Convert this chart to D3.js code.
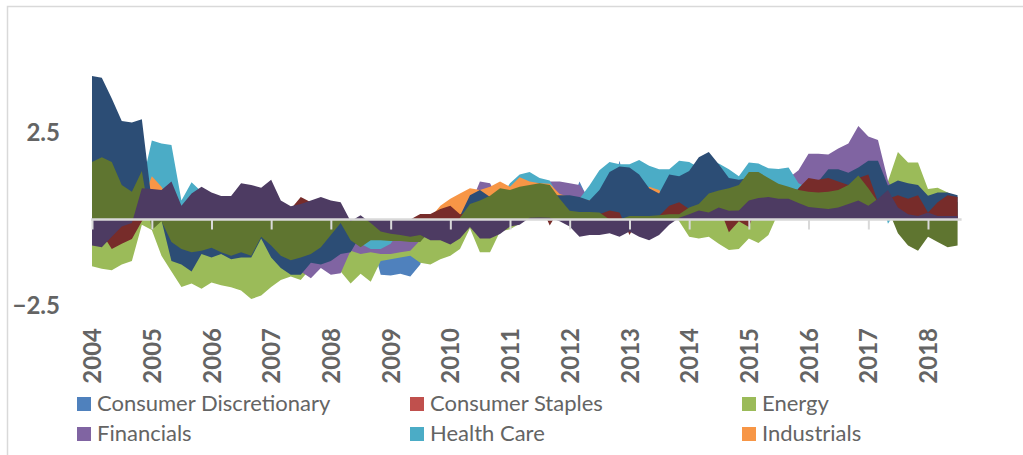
<!DOCTYPE html>
<html>

<head>
    <meta charset="utf-8">
    <style>
        body {
            margin: 0;
            background: #fff;
        }

        svg {
            display: block;
            font-family: Lato, 'Open Sans', sans-serif;
        }

        .tick-label {
            font-size: 24px;
            font-weight: bold;
            fill: #646464;
        }

        .legend-text {
            font-size: 22px;
            fill: #646464;
        }
    </style>
</head>

<body>
    <svg width="1023" height="455"></svg>

    <script src="https://d3js.org/d3.v7.min.js"></script>

    <script>
        // bi-monthly observations, Jan 2004 -> Jul 2018
        let dates = d3.range(88).map(i => new Date(2004, i * 2, 1))

        let yearTicks = [2004, 2005, 2006, 2007, 2008, 2009, 2010, 2011, 2012, 2013, 2014, 2015, 2016, 2017, 2018]
        let yTickValues = [-2.5, 2.5]

        let consDisc = [
            0.5, 0.5, 0.5, 0.5, 0.5, 0.5,
            0.5, -0.2, -0.5, -0.5, -0.5, -0.5,
            -0.5, -0.5, -0.5, -0.5, -0.5, -0.5,
            -0.5, -0.5, -0.5, -0.5, -0.5, -0.5,
            -0.5, -0.5, -0.5, -0.5, -0.5, -1.6,
            -1.62, -1.57, -1.65, -1.3, -0.3, -0.3,
            -0.3, 0.3, 0.3, 0.3, 0.3, 0.3,
            0.3, 0.3, 0.3, 0.3, 0.3, 0.3,
            0.3, 1.1, 0.5, 0.5, 0.5, 1.7,
            0.5, 0.5, 0.5, 0.5, 0.5, 0.5,
            0.5, 0.5, 0.5, 0.5, 0.5, 0.5,
            0.5, 0.5, 0.5, 0.5, 0.5, 0.5,
            0.5, 0.5, 0.5, 0.5, 0.5, 0.5,
            0.5, 0.5, 0.5, 0.5, 0.5, 0.5,
            0.5, 0.5, 0.5, 0.5
        ]

        let consStaples = [
            0.5, 0.5, 0.4, 0.4, 0.4, 0.4,
            0.3, -0.2, -0.4, -0.4, -0.4, -0.4,
            -0.4, -0.4, -0.4, -0.4, -0.4, -0.3,
            -0.4, -0.4, -0.4, -0.4, -0.4, -0.4,
            -0.3, -0.05, -0.3, -0.4, -0.3, -0.3,
            -0.3, -0.3, -0.3, -0.3, -0.3, -0.3,
            -0.3, 0.05, 0.3, 0.3, 0.3, 0.3,
            0.3, 0.3, 0.3, 0.3, 0.3, 0.3,
            0.3, 0.3, 0.3, 0.3, 0.3, 0.3,
            0.3, 0.3, 0.3, 0.3, 0.3, 0.3,
            0.3, 0.3, 0.3, 0.3, 0.3, 0.3,
            0.3, 0.3, 0.3, 0.3, 0.3, 0.3,
            0.3, 0.3, 0.3, 0.3, 0.3, 0.3,
            0.3, 0.3, 0.3, 0.3, 0.3, 0.3,
            0.3, 0.3, 0.3, 0.3
        ]

        let energy = [
            -1.35, -1.42, -1.47, -1.3, -1.2, -0.15,
            -0.3, -1.05, -1.5, -1.95, -1.85, -2.0,
            -1.82, -1.9, -1.96, -2.05, -2.3, -2.2,
            -1.95, -1.75, -1.65, -1.75, -1.4, -1.3,
            -1.4, -1.5, -1.85, -1.57, -1.8, -1.2,
            -1.15, -1.1, -1.05, -1.25, -1.3, -1.15,
            -1.05, -0.85, -0.25, -0.95, -0.95, -0.35,
            -0.28, -0.12, 0.3, 0.3, 0.3, 0.3,
            0.3, 0.3, 0.3, 0.3, 0.3, 0.3,
            0.3, 0.3, 0.3, 0.3, 0.3, -0.05,
            -0.5, -0.55, -0.5, -0.7, -0.88, -0.85,
            -0.55, -0.68, -0.45, 0.2, 0.3, 0.3,
            0.3, 0.3, 0.3, 0.3, 0.3, 0.3,
            0.3, 0.3, 1.1, 1.95, 1.65, 1.65,
            0.88, 0.92, 0.78, 0.5
        ]

        let financials = [
            0.3, 0.3, 0.3, 0.3, 0.3, 0.5,
            0.3, 0.3, 0.3, 0.3, 0.3, 0.3,
            0.3, 0.3, 0.3, 0.3, 0.3, 0.3,
            0.3, 0.3, 0.3, -1.5, -1.7, -1.4,
            -1.6, -1.55, -0.9, -1.0, -0.95, -1.0,
            -1.0, -0.95, -0.9, -0.6, -0.4, -0.3,
            -0.3, 0.3, 0.4, 1.1, 1.05, 0.5,
            0.5, 0.6, 0.6, 0.7, 1.1, 1.1,
            1.05, 1.0, 0.6, 0.6, 0.6, 0.6,
            0.6, 0.6, 0.6, 0.6, 0.6, 0.6,
            0.6, 0.6, 0.6, 1.0, 1.0, 1.0,
            1.0, 1.0, 1.0, 1.0, 1.2, 1.42,
            1.9, 1.9, 1.88, 2.05, 2.2, 2.7,
            2.4, 2.3, 1.13, 0.5, 0.5, 0.5,
            0.3, 0.3, 0.3, 0.3
        ]

        let healthCare = [
            0.5, 0.5, 0.5, 0.5, 0.5, 1.0,
            2.28, 2.2, 2.15, 0.55, 1.08, 0.8,
            0.5, 0.5, 0.5, 0.5, 0.5, 0.5,
            0.5, 0.4, 0.3, 0.3, 0.3, 0.3,
            0.3, 0.3, -0.3, -0.7, -0.85, -0.85,
            -0.7, -0.3, -0.2, -0.2, 0.0, 0.1,
            0.2, 0.3, 0.4, 0.5, 0.5, 0.6,
            1.05, 1.3, 1.37, 1.2, 1.13, 0.6,
            0.6, 0.6, 0.98, 1.42, 1.66, 1.6,
            1.6, 1.72, 1.55, 1.45, 1.45, 1.7,
            1.66, 1.5, 1.6, 1.62, 1.45, 1.25,
            1.65, 1.62, 1.48, 1.46, 1.5, 1.05,
            0.9, 1.0, 1.0, 1.0, 1.0, 1.0,
            1.0, 1.0, -0.12, 0.3, 0.3, 0.3,
            0.3, 0.3, 0.3, 0.3
        ]

        let industrials = [
            0.3, 0.3, 0.3, 0.3, 0.3, 0.5,
            1.25, 0.95, 0.5, 0.3, 0.3, 0.3,
            0.3, 0.3, 0.3, 0.3, 0.3, 0.3,
            0.3, 0.3, 0.2, 0.2, 0.2, 0.3,
            0.2, 0.2, -0.1, -0.1, -0.1, -0.1,
            -0.1, -0.1, -0.1, 0.0, 0.05, 0.4,
            0.6, 0.75, 0.9, 0.85, 0.95, 1.1,
            0.95, 1.22, 1.1, 1.05, 1.03, 0.74,
            0.65, 0.6, 0.55, 0.5, 0.5, 0.5,
            0.5, 0.5, 0.95, 0.85, 0.5, 0.5,
            0.5, 0.5, 0.5, 0.5, 0.5, 0.5,
            0.5, 0.5, 0.5, 0.5, 0.5, 0.5,
            0.5, 0.5, 0.5, 0.5, 0.5, 0.5,
            0.5, 0.5, 0.3, 0.3, 0.3, 0.3,
            0.3, 0.3, 0.3, 0.3
        ]

        let infoTech = [
            4.15, 4.1, 3.5, 2.85, 2.8, 2.9,
            0.5, -0.02, -1.2, -1.3, -1.5, -1.0,
            -1.1, -1.0, -1.15, -1.1, -1.1, -0.55,
            -1.1, -1.4, -1.6, -1.6, -1.25, -1.3,
            -1.2, -1.0, -0.95, -0.45, -0.45, -0.4,
            -0.3, -0.2, -0.3, -0.3, -0.4, -0.4,
            -0.5, 0.1, 0.7, 0.85, 0.65, 0.6,
            0.6, 0.6, 0.7, 0.7, 0.7, 0.7,
            0.7, 0.65, 0.55, 0.85, 1.37, 1.53,
            1.5, 1.3, 0.9, 0.75, 1.3, 1.25,
            1.4, 1.8, 1.95, 1.6, 1.2, 1.15,
            1.2, 1.0, 1.0, 1.0, 0.9, 0.85,
            1.0, 1.1, 1.45, 1.45, 1.35, 1.5,
            1.7, 1.7, 0.98, 1.13, 1.05, 1.0,
            0.69, 0.78, 0.78, 0.7
        ]

        let materials = [
            -0.3, -0.4, -0.85, -0.7, -0.56, -0.05,
            0.3, 0.3, 0.5, 0.3, 0.4, 0.5,
            0.5, 0.4, 0.4, 0.6, 0.5, 0.5,
            0.6, 0.4, 0.3, 0.65, 0.5, 0.4,
            0.3, 0.2, -0.3, -0.4, -0.05, -0.2,
            -0.3, -0.3, 0.0, 0.16, 0.16, 0.3,
            0.4, 0.15, 0.2, 0.3, 0.3, 0.4,
            0.4, 0.5, 0.5, 0.5, -0.17, 0.3,
            0.1, 0.1, 0.1, 0.15, 0.26, 0.2,
            -0.45, 0.05, 0.05, 0.1, 0.4, 0.5,
            0.3, 0.2, 0.3, 0.4, -0.37, -0.05,
            -0.22, 0.5, 0.5, 0.5, 0.5, 0.9,
            1.2, 1.15, 1.2, 1.1, 1.0, 1.2,
            1.3, 0.5, 0.6, 0.7, 0.6, 0.7,
            0.2, 0.5, 0.7, 0.65
        ]

        let telecom = [
            1.66, 1.8, 1.66, 1.0, 0.8, 1.4,
            -0.3, -0.05, -0.65, -0.85, -0.95, -0.9,
            -0.82, -0.95, -1.05, -0.95, -1.05, -0.5,
            -0.75, -1.05, -1.18, -1.1, -1.0, -0.8,
            -0.45, -0.1, -0.6, -0.8, -0.6, -0.6,
            -0.62, -0.62, -0.65, -0.65, -0.3, -0.2,
            -0.3, 0.05, 0.45, 0.55, 0.69, 0.9,
            0.85, 0.95, 1.0, 1.05, 1.0, 0.6,
            0.25, 0.22, 0.22, 0.2, 0.0, 0.0,
            0.1, 0.1, 0.1, 0.12, 0.15, 0.15,
            0.35, 0.45, 0.75, 0.84, 0.9, 1.0,
            1.37, 1.37, 1.2, 1.03, 0.95, 0.85,
            0.8, 0.78, 0.8, 0.85, 1.0, 1.27,
            0.9, 0.5, 0.3, -0.4, -0.75, -0.9,
            -0.5, -0.65, -0.8, -0.75
        ]

        let utilities = [
            -0.75, -0.8, -0.5, -0.2, -0.1, 0.9,
            0.88, 0.85, 1.1, 0.4, 0.75, 0.95,
            0.78, 0.68, 0.68, 1.05, 1.0, 0.92,
            1.15, 0.55, 0.38, 0.45, 0.55, 0.65,
            0.55, 0.5, -0.05, 0.12, -0.1, -0.35,
            -0.41, -0.45, -0.5, -0.45, -0.6, -0.6,
            -0.72, -0.55, -0.22, -0.55, -0.55, -0.42,
            -0.2, -0.15, 0.05, 0.06, 0.05, -0.05,
            -0.2, -0.5, -0.45, -0.45, -0.4, -0.5,
            -0.35, -0.5, -0.6, -0.45, -0.15, 0.05,
            0.15, 0.26, 0.2, 0.35, 0.25, 0.26,
            0.55, 0.62, 0.65, 0.6, 0.6, 0.48,
            0.36, 0.33, 0.3, 0.35, 0.45, 0.55,
            0.4, 0.6, 0.85, 0.35, 0.15, 0.1,
            0.2, 0.1, 0.1, 0.1
        ]

        // drawing order = Excel series order (first one ends up at the back)
        let seriesNames = ["Consumer Discretionary", "Consumer Staples", "Energy", "Financials", "Health Care",
            "Industrials", "Information Technology", "Materials", "Telecommunication Services", "Utilities"]
        let seriesValues = [consDisc, consStaples, energy, financials, healthCare,
            industrials, infoTech, materials, telecom, utilities]
        let colors = ["#4f81bd", "#c0504d", "#9bbb59", "#8064a2", "#4bacc6",
            "#f79646", "#2c4d75", "#772c2a", "#5f7530", "#4d3b62"]

        let svg = d3.select("svg")

        // outer chart frame (right and bottom edges fall outside the picture)
        svg.append("rect")
            .attr("x", 7.5)
            .attr("y", 6.5)
            .attr("width", 1040)
            .attr("height", 470)
            .style("fill", "none")
            .style("stroke", "#d9d9d9")
            .style("stroke-width", 1.5)

        let x = d3.scaleTime()
            .domain([new Date(2004, 0, 1), new Date(2018, 0, 1)])
            .range([92, 928])

        let y = d3.scaleLinear()
            .domain([-2.5, 2.5])
            .range([306, 133])

        let area = d3.area()
            .x((d, i) => x(dates[i]))
            .y0(y(0))
            .y1(d => y(d))

        svg.selectAll(".sector")
            .data(seriesValues)
            .join("path")
            .attr("class", "sector")
            .attr("d", area)
            .style("fill", (d, i) => colors[i])
            .style("stroke", "none")

        // zero line with year ticks
        let xAxis = svg.append("g")
            .attr("transform", "translate(0," + y(0) + ")")
            .call(d3.axisBottom(x)
                .tickValues(yearTicks.map(yr => new Date(yr, 0, 1)))
                .tickSize(10)
                .tickSizeOuter(0)
                .tickFormat(""))

        xAxis.select(".domain").remove()
        xAxis.selectAll(".tick line")
            .style("stroke", "#d9d9d9")
            .style("stroke-width", 2)

        svg.append("line")
            .attr("x1", x(dates[0]) - 1)
            .attr("x2", x(dates[dates.length - 1]) + 4)
            .attr("y1", y(0))
            .attr("y2", y(0))
            .style("stroke", "#d9d9d9")
            .style("stroke-width", 2.5)

        // rotated year labels
        let labelAxis = svg.append("g")
            .attr("transform", "translate(0,328)")
            .call(d3.axisBottom(x)
                .tickValues(yearTicks.map(yr => new Date(yr, 0, 1)))
                .tickSize(0)
                .tickFormat(d3.timeFormat("%Y")))

        labelAxis.select(".domain").remove()
        labelAxis.selectAll("text")
            .attr("class", "tick-label")
            .attr("x", 0)
            .attr("y", 0)
            .attr("dy", "0.36em")
            .attr("transform", "rotate(-90)")
            .style("text-anchor", "end")
            .style("font-family", "Lato, 'Open Sans', sans-serif")

        // value labels (only +/-2.5 are shown)
        let yAxis = svg.append("g")
            .attr("transform", "translate(60,0)")
            .call(d3.axisLeft(y)
                .tickValues(yTickValues)
                .tickSize(0)
                .tickFormat(d3.format(".1f")))

        yAxis.select(".domain").remove()
        yAxis.selectAll("text")
            .attr("class", "tick-label")
            .attr("x", 0)
            .style("font-family", "Lato, 'Open Sans', sans-serif")

        // legend: only the first six series fit in the visible part of the box
        let legendCols = [77, 410, 742]
        let legendRows = [397, 427]

        let legend = svg.selectAll(".legend-item")
            .data(seriesNames.slice(0, 6))
            .join("g")
            .attr("class", "legend-item")
            .attr("transform", (d, i) => "translate(" + legendCols[i % 3] + "," + legendRows[Math.floor(i / 3)] + ")")

        legend.append("rect")
            .attr("width", 14)
            .attr("height", 14)
            .style("fill", (d, i) => colors[i])

        legend.append("text")
            .attr("class", "legend-text")
            .attr("x", 20)
            .attr("y", 14)
            .text(d => d)
    </script>
</body>

</html>
